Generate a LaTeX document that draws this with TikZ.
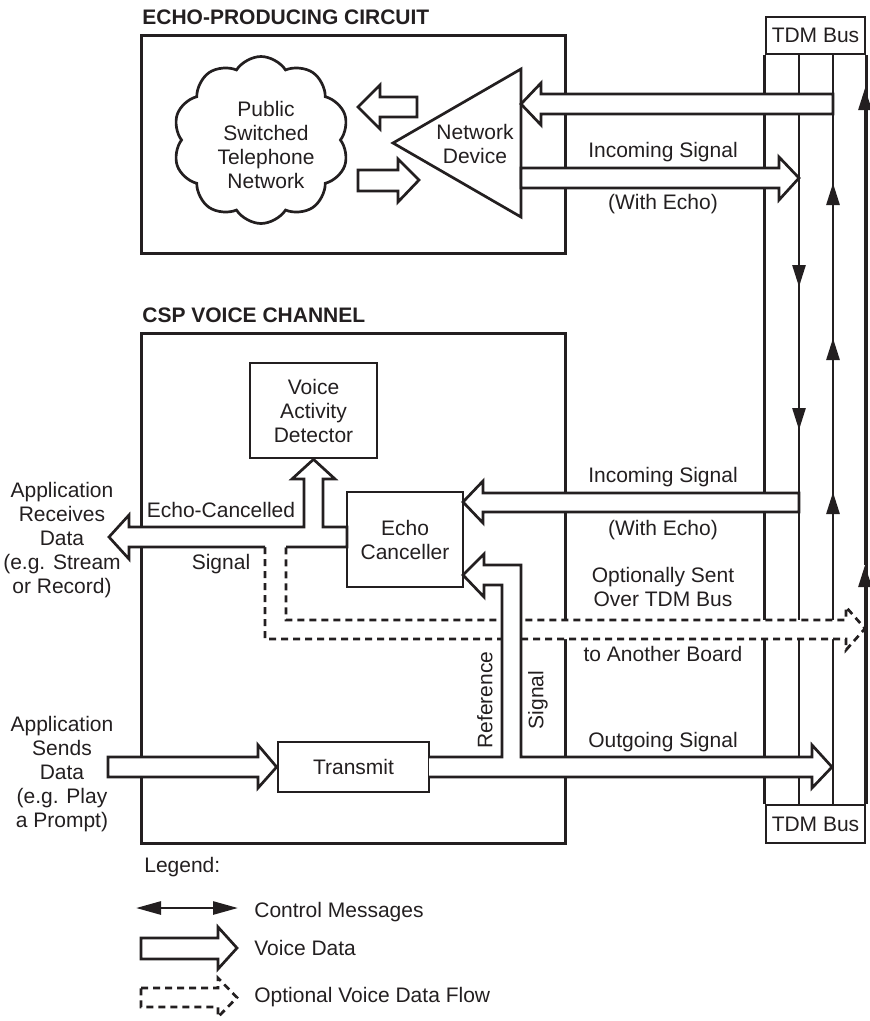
\documentclass[tikz,border=0pt]{standalone}
\usepackage{fontspec}
\setmainfont{Liberation Sans}
\usetikzlibrary{arrows.meta,shapes.symbols}
\definecolor{ink}{RGB}{35,31,32}

\begin{document}
\begin{tikzpicture}[x=1pt, y=-1pt, line width=2.7pt, draw=ink,
                every node/.style={font=\fontsize{21}{24}\selectfont, inner sep=0pt, text=ink},
                box/.style={draw=ink, fill=white, align=center},
                voice/.style={draw=ink, fill=white, line join=miter, miter limit=10},
                optional/.style={voice, dash pattern=on 7pt off 5pt},
                ctl/.style={-{Triangle[length=22pt, width=13pt]}},
                heading/.style={anchor=base west, font=\fontsize{21}{24}\selectfont\bfseries}]

    \useasboundingbox (0,0) rectangle (870,1021);

    % titles and frames
    \node[heading] (t1) at (141,24) {ECHO-PRODUCING CIRCUIT};
    \node[heading] (t2) at (141,322) {CSP VOICE CHANNEL};
    \node[box, line width=3pt, minimum width=424pt, minimum height=218pt] (echo) at (353,144) {};
    \node[box, line width=3pt, minimum width=424pt, minimum height=510pt] (csp) at (353,588) {};

    % TDM bus
    \node[box, minimum width=99pt, minimum height=37pt] (tdmtop) at (815.5,35.5) {TDM Bus};
    \node[box, minimum width=99pt, minimum height=38pt] (tdmbot) at (815.5,824) {TDM Bus};
    \draw (tdmtop.south west) -- (tdmbot.north west);
    \draw (799,54) -- (799,805);
    \draw (833,54) -- (833,805);
    \draw (tdmtop.south east) -- (tdmbot.north east);
    \draw[ctl] (799,54) -- (799,287);
    \draw[ctl] (799,287) -- (799,430);
    \draw[ctl] (833,805) -- (833,492);
    \draw[ctl] (833,492) -- (833,338);
    \draw[ctl] (833,338) -- (833,183);
    \draw[ctl] (865,805) -- (865,565);
    \draw[ctl] (865,565) -- (865,88);

    % echo-producing circuit
    \node[cloud, draw=ink, cloud puffs=10, cloud puff arc=115, aspect=1.05,
          minimum width=176pt, minimum height=167pt] (pstn) at (261,140) {};
    \node[align=center] (pstntext) at (266,145) {Public\\Switched\\Telephone\\Network};
    \draw[line join=miter] (393,143) coordinate (ndtip) -- (521,69) -- (521,217) -- cycle;
    \node[align=center] (nd) at (475,144) {Network\\Device};

    \draw[voice] (417,97) -- (380,97) -- (380,85) -- (358,107) -- (380,129) -- (380,117) -- (417,117) -- cycle;
    \draw[voice] (358,170) -- (398,170) -- (398,159) -- (419,180) -- (398,202) -- (398,191) -- (358,191) -- cycle;
    \draw[voice] (833,94) -- (541,94) -- (541,83) -- (521,104) -- (541,125) -- (541,114) -- (833,114) -- cycle;
    \draw[voice] (521,168) -- (779,168) -- (779,157) -- (799,178) -- (779,200) -- (779,188) -- (521,188) -- cycle;

    % voice channel
    \node[box, minimum width=127pt, minimum height=95pt] (vad) at (313.5,410.5) {Voice\\Activity\\Detector};
    \node[box, minimum width=116pt, minimum height=95pt] (ec) at (405,539.5) {Echo\\Canceller};
    \node[box, minimum width=151pt, minimum height=50pt] (tx) at (353.5,767) {Transmit};

    \draw[optional, fill=white] (265,547) -- (265,639) -- (846,639) -- (846,650) -- (865,628.5)
        -- (846,607) -- (846,620) -- (286,620) -- (286,547);
    \draw[voice] (265,547) -- (129,547) -- (129,559) -- (109,537) -- (129,515) -- (129,527)
        -- (304,527) -- (304,479) -- (292,479) -- (vad.south) -- (335,479) -- (323,479)
        -- (323,527) -- (347,527) -- (347,547) -- (286,547);
    \draw[voice] (799,493) -- (483,493) -- (483,481) -- (463,502) -- (483,523) -- (483,512) -- (799,512) -- cycle;
    \draw[voice] (429,777) -- (812,777) -- (812,788) -- (832,767) -- (812,745) -- (812,757)
        -- (521,757) -- (521,565) -- (484,565) -- (484,554) -- (463,575) -- (484,597)
        -- (484,585) -- (502,585) -- (502,757) -- (429,757);
    \draw[voice] (108,757) -- (258,757) -- (258,745) -- (tx.west) -- (258,788) -- (258,777) -- (108,777) -- cycle;

    % labels
    \node[anchor=base] (l1) at (663,157) {Incoming Signal};
    \node[anchor=base] (l2) at (663,209) {(With Echo)};
    \node[anchor=base] (l3) at (663,482) {Incoming Signal};
    \node[anchor=base] (l4) at (663,535) {(With Echo)};
    \node[align=center] (l5) at (663,587) {Optionally Sent\\Over TDM Bus};
    \node[anchor=base] (l6) at (663,661) {to Another Board};
    \node[anchor=base] (l7) at (663,747) {Outgoing Signal};
    \node[anchor=base] (l8) at (221,517) {Echo-Cancelled};
    \node[anchor=base] (l9) at (221,569) {Signal};
    \node[rotate=90] (ref) at (485,700) {Reference};
    \node[rotate=90] (sig) at (538,700) {Signal};
    \node[align=center] (recv) at (62,540) {Application\\Receives\\Data\\(e.g. Stream\\or Record)};
    \node[align=center] (send) at (62,774) {Application\\Sends\\Data\\(e.g. Play\\a Prompt)};

    % legend
    \node[anchor=base west] (leg) at (143,872) {Legend:};
    \draw[{Triangle[length=25pt, width=13pt]}-{Triangle[length=25pt, width=13pt]}] (136,908) -- (238,908);
    \node[anchor=base west] (leg1) at (253,917) {Control Messages};
    \draw[voice] (141,938) -- (218,938) -- (218,927) -- (237,948) -- (218,969) -- (218,959) -- (141,959) -- cycle;
    \node[anchor=base west] (leg2) at (253,955) {Voice Data};
    \draw[optional] (141,988) -- (218,988) -- (218,978) -- (237,997.5) -- (218,1017) -- (218,1007) -- (141,1007) -- cycle;
    \node[anchor=base west] (leg3) at (253,1002) {Optional Voice Data Flow};
\end{tikzpicture}
\end{document}
